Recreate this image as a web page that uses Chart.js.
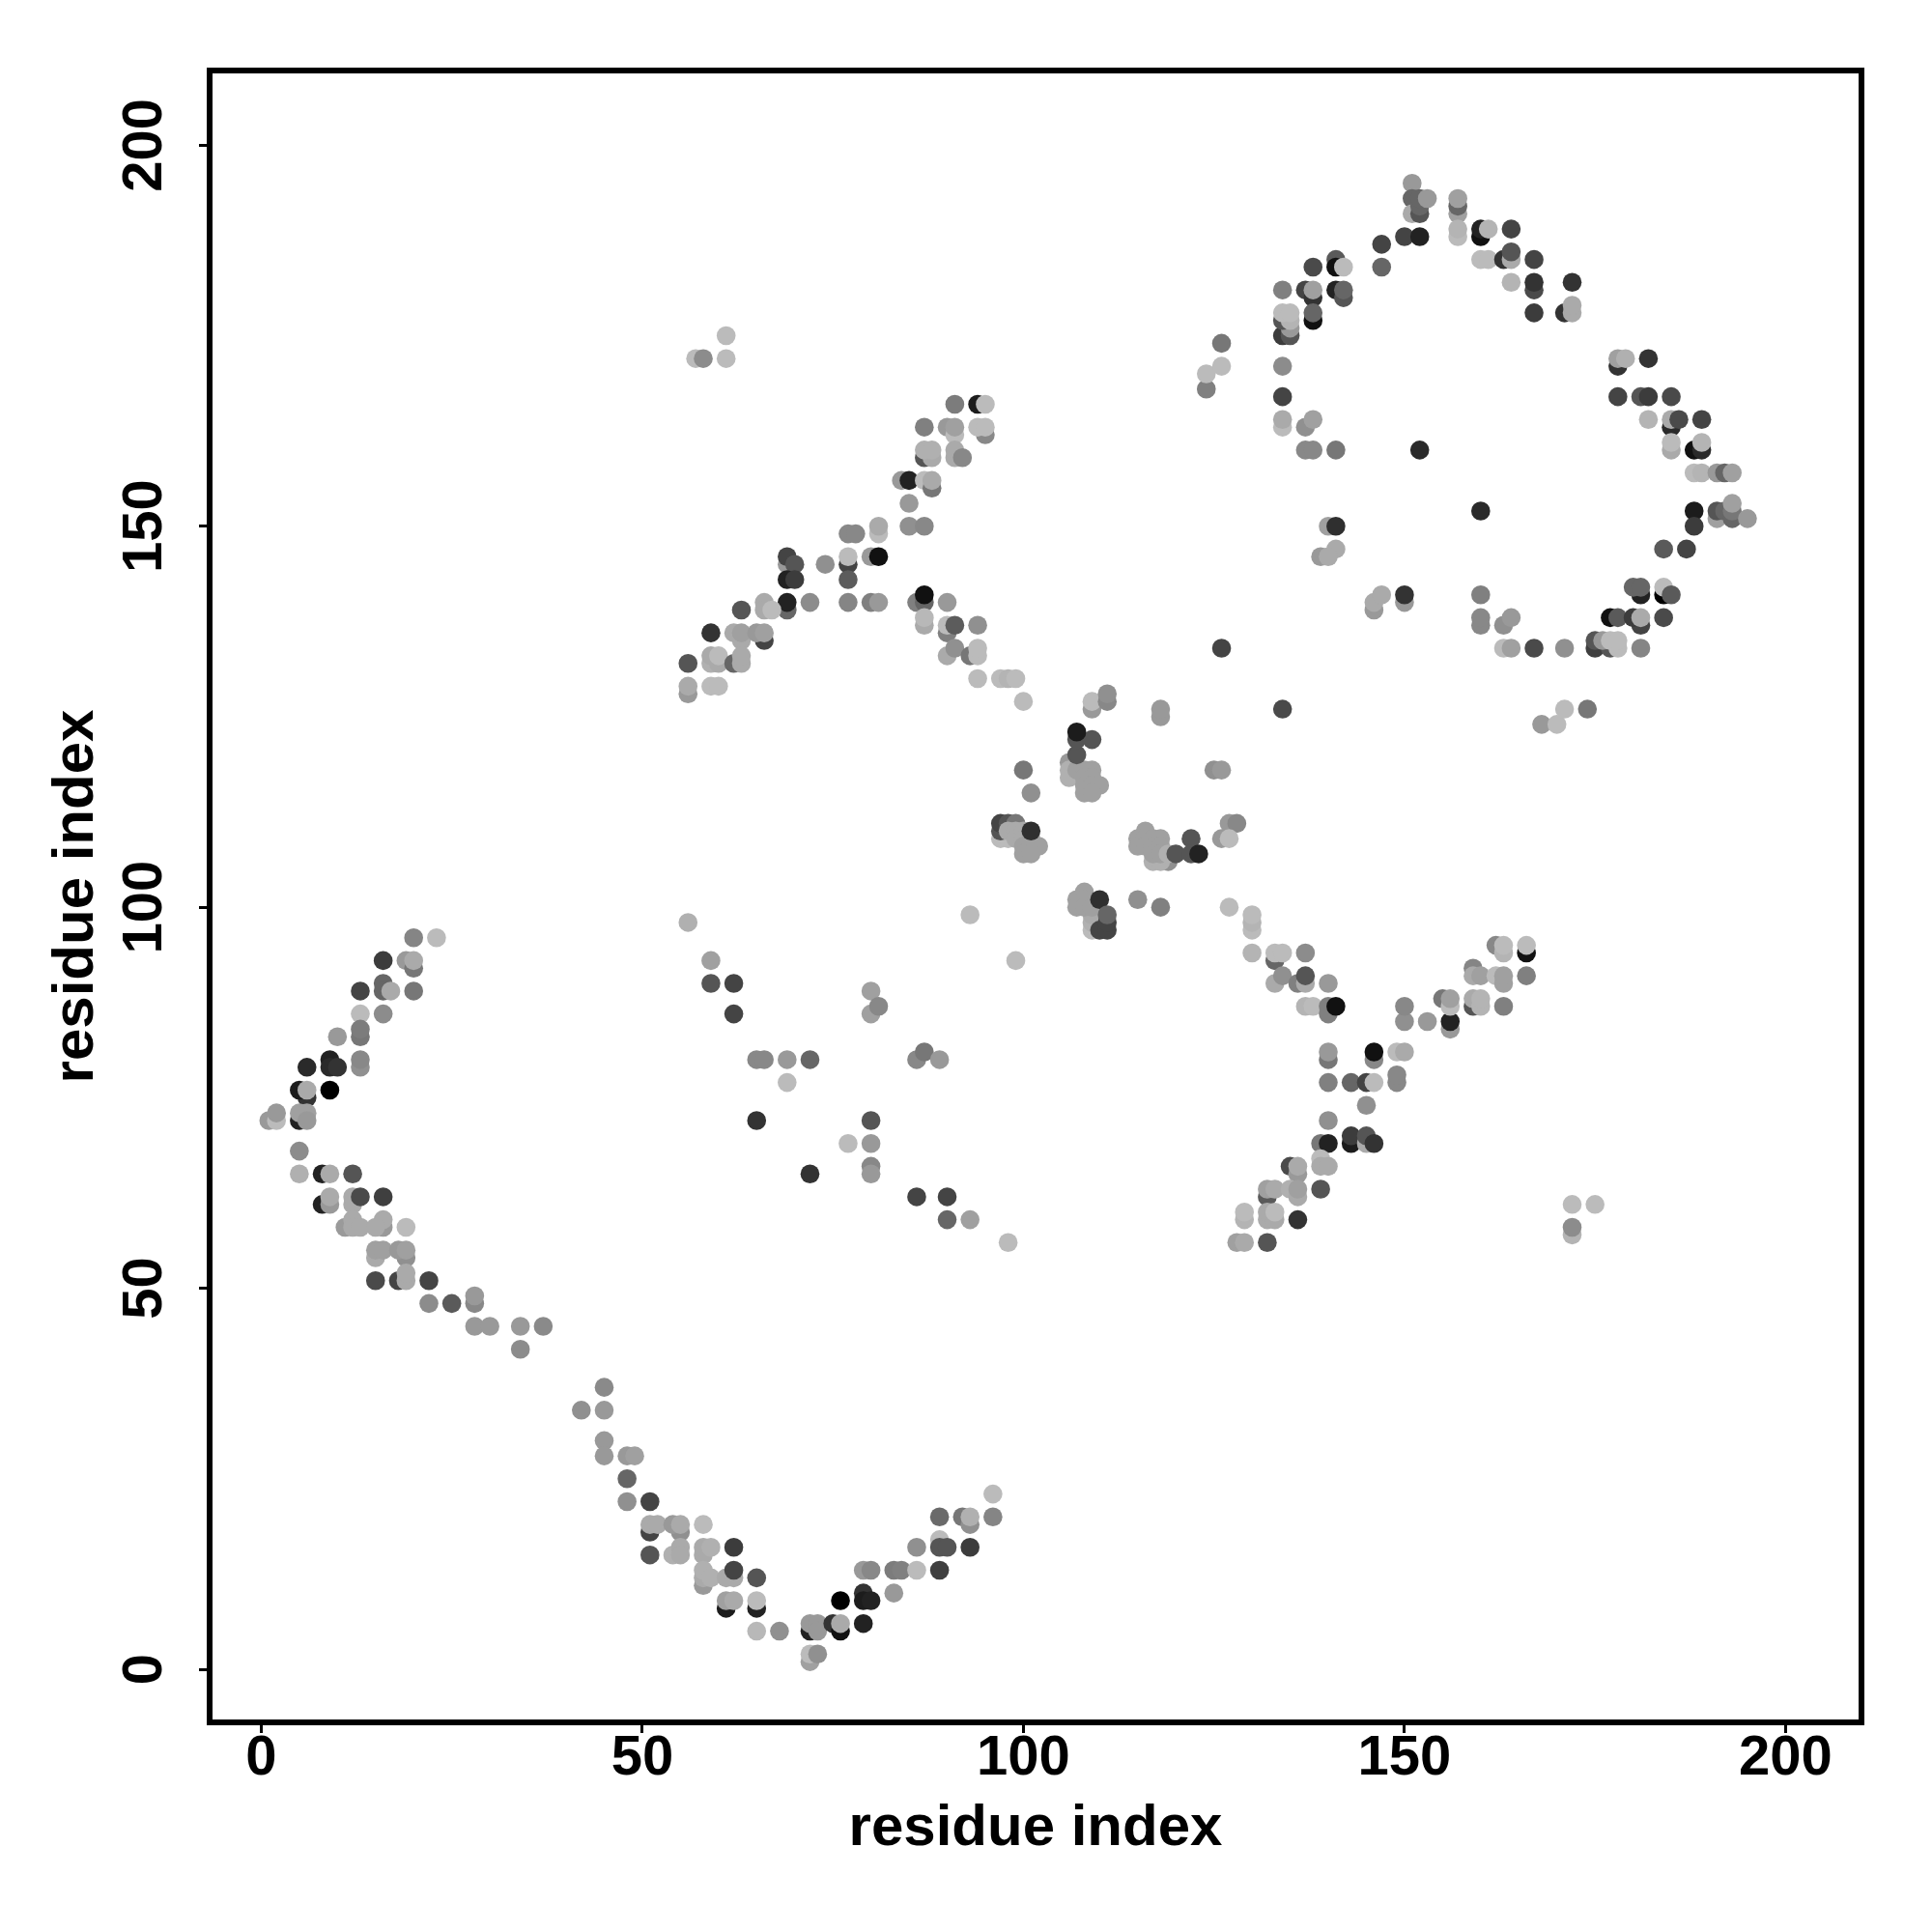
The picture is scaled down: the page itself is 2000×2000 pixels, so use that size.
<!DOCTYPE html>
<html>
<head>
<meta charset="utf-8">
<script src="https://cdn.jsdelivr.net/npm/chart.js@4/dist/chart.umd.js"></script>
<style>
  body { margin: 0; background: #fff; }
  canvas { display: block; }
</style>
</head>
<body>
<canvas id="contacts" width="2000" height="2000"></canvas>
<script>
// rows are [residue i, residue j, score], draw order as listed
const armLeft = [[20,96,133],[23,96,187],[16,93,60],[19,93,153],[20,92,119],[20,93,170],[16,90,102],[16,89,102],[17,89,170],[13,89,68],[20,89,119],[13,86,187],[16,86,140],[13,83,119],[13,84,124],[10,83,153],[13,79,144],[13,80,136],[9,80,34],[9,79,42],[10,79,51],[6,79,42],[6,75,51],[5,76,28],[6,76,170],[9,76,0],[1,72,153],[2,72,187],[2,73,153],[5,72,34],[5,73,160],[6,73,160],[6,72,153],[5,68,140],[5,65,176],[8,65,34],[9,65,170],[12,65,85],[8,61,34],[9,61,153],[9,62,170],[12,61,170],[12,62,170],[13,62,74],[16,62,63],[11,58,154],[12,59,170],[12,58,170],[13,58,170],[16,58,153],[16,59,170],[15,58,170],[19,58,187],[15,54,170],[15,55,160],[16,55,160],[19,54,144],[18,55,153],[19,55,160],[15,51,74],[18,51,68],[19,51,170],[19,52,170],[22,51,68],[22,48,140],[25,48,90],[28,48,136],[28,49,153],[28,45,153],[30,45,153],[34,45,153],[37,45,138],[34,42,140]];
const armBottom = [[45,37,138],[42,34,144],[45,34,153],[45,30,153],[45,28,153],[48,28,153],[49,28,160],[48,25,102],[48,22,144],[51,22,68],[51,18,68],[51,19,170],[52,19,170],[55,18,144],[54,19,153],[55,19,170],[58,19,187],[51,15,85],[54,15,176],[55,16,170],[55,15,170],[58,15,170],[58,16,170],[59,16,176],[62,16,60],[58,11,153],[58,12,170],[58,13,176],[59,12,176],[61,12,170],[62,12,170],[62,13,68],[65,12,85],[61,8,28],[61,9,160],[62,9,170],[65,8,34],[65,9,187],[65,5,184],[68,5,144],[72,5,34],[72,6,153],[73,6,153],[73,5,153],[75,6,51],[76,5,17],[76,6,170],[79,6,34],[76,9,0],[79,10,51],[79,9,28],[80,9,34],[83,10,153],[79,13,153],[80,13,136],[83,13,124],[84,13,128],[86,13,187],[89,13,63],[86,16,144],[89,17,187],[89,16,85],[90,16,85],[93,16,60],[89,20,106],[92,20,119],[93,19,144],[93,20,176],[96,20,133],[96,23,187],[72,1,160],[72,2,187],[73,2,144]];
const armUpper = [[61,175,187],[57,172,187],[58,172,140],[61,172,187],[91,166,124],[94,166,28],[95,166,187],[87,163,128],[90,163,153],[91,162,187],[91,163,160],[95,162,136],[94,163,187],[95,163,187],[87,159,85],[88,159,170],[87,160,176],[88,160,176],[91,159,170],[91,160,170],[92,159,136],[84,156,153],[85,156,34],[87,156,187],[88,155,119],[88,156,170],[85,153,153],[85,150,144],[87,150,136],[77,149,136],[78,149,136],[81,149,187],[81,150,170],[77,145,68],[77,146,187],[77,143,92],[80,146,153],[81,146,17],[74,145,144],[69,145,153],[69,146,68],[70,145,85],[69,143,34],[70,143,60],[69,139,102],[69,140,34],[72,140,140],[77,140,133],[80,140,128],[81,140,153],[86,140,128],[87,140,102],[87,141,17],[90,140,153],[63,139,85],[66,140,170],[66,139,170],[67,139,187],[59,136,51],[62,136,170],[63,135,170],[63,136,160],[66,135,68],[65,136,153],[66,136,160],[56,132,85],[59,132,176],[59,133,170],[60,132,170],[60,133,187],[62,132,102],[63,132,170],[63,133,170],[56,128,153],[56,129,170],[59,129,187],[60,129,187],[87,137,170],[87,138,184],[90,136,128],[90,137,187],[91,137,92],[94,137,144],[90,133,170],[91,134,144],[93,133,119],[94,133,187],[94,134,187],[94,130,187],[97,130,187],[98,130,180],[99,130,187],[100,127,187]];
const ringTop = [[151,195,153],[151,193,102],[151,191,170],[152,191,85],[152,192,102],[152,193,102],[153,193,153],[157,191,160],[157,192,102],[157,193,160],[157,188,187],[157,189,180],[147,187,68],[150,188,68],[152,188,34],[147,184,102],[160,188,17],[160,189,34],[161,189,180],[164,189,68],[160,185,187],[161,185,187],[163,185,51],[164,185,170],[164,186,85],[167,185,68],[164,182,180],[167,181,74],[167,182,51],[167,178,60],[172,182,51],[171,178,51],[172,178,170],[172,179,170],[138,184,74],[141,185,90],[141,184,17],[142,184,187],[134,181,128],[137,181,68],[138,180,51],[138,181,160],[141,181,34],[142,180,85],[142,181,102],[138,177,17],[138,178,102],[134,175,60],[135,175,85],[135,176,153],[134,177,85],[135,177,180],[134,178,187],[135,178,187],[134,171,140],[134,167,68],[134,163,187],[134,164,170],[137,163,144],[138,164,160],[137,160,136],[138,160,136],[141,160,119],[152,160,42],[178,171,51],[178,172,160],[179,172,176],[182,172,51],[178,167,68],[181,167,85],[182,167,60],[185,167,74],[182,164,180],[185,163,42],[185,164,170],[186,164,74],[189,164,68],[185,160,170],[185,161,187],[188,160,17],[189,160,42],[189,161,180],[188,157,187],[189,157,180],[191,157,153],[192,157,102],[193,157,160],[188,152,28],[188,150,60],[160,152,42],[191,151,160],[191,152,85],[192,152,102],[193,151,102],[193,152,119],[193,153,160],[195,151,153]];
const ringBottom = [[140,150,160],[141,150,47],[141,147,170],[139,146,153],[140,146,170],[146,139,153],[146,140,170],[147,141,170],[150,140,153],[150,141,51],[160,137,136],[160,138,136],[160,141,128],[163,137,144],[164,138,153],[163,134,187],[164,134,160],[167,134,74],[171,134,144],[175,134,63],[175,135,85],[177,134,85],[176,135,153],[177,135,187],[178,134,187],[178,135,187],[181,134,133],[177,138,17],[178,138,90],[181,137,68],[180,138,60],[181,138,170],[184,138,74],[181,141,34],[180,142,102],[181,142,102],[184,141,0],[184,142,187],[185,141,90],[184,147,90],[187,147,68],[134,126,74],[168,124,153],[170,124,187],[171,126,187],[174,126,119],[126,134,68],[124,168,128],[124,170,187],[126,171,187],[126,174,119]];
const core = [[109,126,153],[109,127,187],[111,127,136],[111,128,144],[118,125,153],[118,126,153],[106,119,153],[100,118,119],[101,115,144],[106,117,176],[106,118,176],[107,118,160],[108,118,160],[109,118,160],[108,117,160],[109,117,160],[108,116,160],[109,116,160],[110,116,160],[108,115,160],[109,115,160],[107,120,85],[107,122,85],[109,122,85],[107,123,28],[125,118,144],[126,118,153],[97,109,187],[98,109,187],[97,110,85],[97,111,68],[98,111,85],[99,111,119],[98,110,170],[99,110,170],[99,109,170],[100,110,170],[100,109,170],[100,108,160],[101,109,160],[101,108,160],[102,108,160],[100,107,160],[101,107,160],[101,110,47],[119,106,144],[117,106,176],[118,106,176],[116,110,160],[115,109,160],[116,109,160],[117,109,160],[118,109,160],[115,108,160],[116,108,160],[117,108,160],[118,108,160],[117,107,160],[118,107,160],[119,107,176],[122,109,85],[120,107,85],[122,107,85],[123,107,34],[127,111,153],[128,111,136],[126,109,153],[127,109,187],[109,97,187],[109,98,176],[109,99,170],[110,99,170],[108,102,160],[107,101,160],[108,101,160],[107,100,160],[108,100,160],[109,100,160],[110,101,47],[110,97,68],[111,97,68],[111,98,68],[111,99,102],[115,101,144],[118,100,128],[127,100,187],[130,97,187],[130,98,180],[130,99,187]];
const armLower = [[130,94,180],[133,93,102],[133,94,187],[134,94,187],[137,94,140],[133,90,170],[134,91,144],[136,90,128],[137,90,170],[137,91,85],[140,90,153],[137,87,180],[138,87,187],[140,86,128],[140,87,128],[141,87,17],[150,85,144],[150,87,136],[153,85,153],[156,84,153],[156,85,34],[155,88,119],[156,87,187],[156,88,160],[159,87,85],[159,88,170],[160,87,180],[160,88,180],[163,87,128],[159,92,133],[159,91,170],[160,91,160],[162,91,187],[163,90,160],[163,91,160],[166,91,128],[162,95,136],[163,94,180],[163,95,187],[166,94,17],[166,95,187],[140,80,119],[140,81,153],[146,80,136],[146,81,17],[149,81,187],[150,81,170],[140,77,128],[143,77,102],[145,77,68],[146,77,187],[149,77,136],[149,78,136],[145,74,144],[140,72,144],[139,69,119],[140,69,34],[143,69,28],[143,70,60],[145,69,170],[145,70,85],[146,69,51],[139,67,187],[139,66,170],[140,66,170],[135,66,74],[136,65,153],[136,66,170],[132,62,90],[132,63,160],[133,63,170],[135,63,176],[136,62,170],[136,63,160],[139,63,85],[129,59,180],[129,60,187],[132,59,170],[132,60,170],[133,59,170],[133,60,187],[136,59,51],[128,56,160],[129,56,170],[132,56,85],[172,61,187],[175,61,187],[172,57,180],[172,58,140]];
const scattered = [[56,98,176],[59,93,160],[59,90,85],[62,90,68],[62,86,68],[65,80,136],[66,80,136],[69,80,153],[72,80,102],[69,77,187],[65,72,51],[72,65,51],[77,69,187],[80,89,160],[80,86,160],[81,87,136],[86,80,136],[87,81,119],[89,80,153],[80,72,85],[80,69,153],[80,66,136],[80,65,153],[86,62,68],[90,62,68],[90,59,102],[93,59,160],[98,56,187],[93,99,187],[99,93,187]];
const tickValues = [0, 50, 100, 150, 200];
const axisLabel = 'residue index';

const rows = [].concat(armLeft, armBottom, armUpper, ringTop, ringBottom, core, armLower, scattered);
const fontFamily = '"Liberation Sans", Arial, sans-serif';

const frame = {
    id: 'frame',
    afterDraw(chart) {
        const { ctx, chartArea: a } = chart;
        ctx.save();
        ctx.lineWidth = 6;
        ctx.strokeStyle = '#000';
        ctx.strokeRect(a.left, a.top, a.right - a.left, a.bottom - a.top);
        ctx.restore();
    }
};

function axis(min, max, size, extra) {
    return Object.assign({
        type: 'linear',
        min: min,
        max: max,
        afterBuildTicks: s => { s.ticks = tickValues.map(v => ({ value: v })); },
        grid: { drawOnChartArea: false, tickLength: 11, tickWidth: 3, tickColor: '#000' },
        border: { display: false }
    }, extra, {
        afterFit: s => { if (s.isHorizontal()) s.height = size; else s.width = size; }
    });
}

new Chart(document.getElementById('contacts'), {
    type: 'scatter',
    data: {
        datasets: [{
            data: rows.map(r => ({ x: r[0], y: r[1] })),
            backgroundColor: rows.map(r => `rgb(${r[2]},${r[2]},${r[2]})`),
            borderWidth: 0,
            pointRadius: 9.8,
            pointHoverRadius: 9.8
        }]
    },
    options: {
        responsive: false,
        animation: false,
        events: [],
        layout: { padding: { top: 73, right: 73, left: 0, bottom: 0 } },
        plugins: { legend: { display: false }, tooltip: { enabled: false } },
        scales: {
            x: axis(-6.77, 209.96, 217, {
                ticks: { padding: -8, color: '#000', maxRotation: 0, font: { family: fontFamily, size: 58, weight: 'bold' } },
                title: { display: true, text: axisLabel, color: '#000', padding: { top: 0, bottom: 71 }, font: { family: fontFamily, size: 60, weight: 'bold' } }
            }),
            y: axis(-6.97, 209.8, 217, {
                ticks: { padding: 7, color: '#000', minRotation: 90, maxRotation: 90, crossAlign: 'center', font: { family: fontFamily, size: 58, weight: 'bold' } },
                title: { display: true, text: axisLabel, color: '#000', padding: { top: 43, bottom: 0 }, font: { family: fontFamily, size: 60, weight: 'bold' } }
            })
        }
    },
    plugins: [frame]
});
</script>
</body>
</html>
